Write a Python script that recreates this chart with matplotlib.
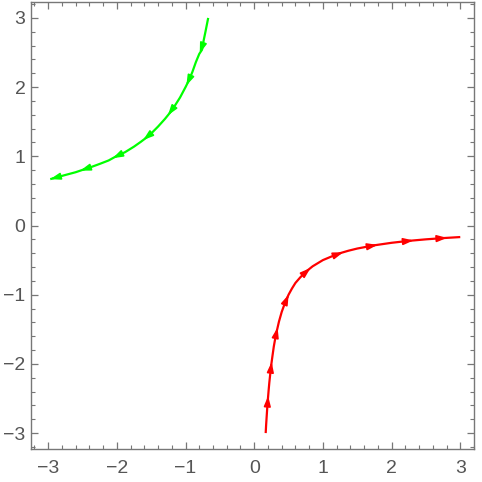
import numpy as np
import matplotlib
matplotlib.use("Agg")
import matplotlib.pyplot as plt
from matplotlib.ticker import MultipleLocator

# Curves (ordered in flow direction)
green_x = [-0.67, -0.69, -0.71, -0.735, -0.76, -0.8, -0.85, -0.9, -0.95, -1.0, -1.08, -1.15, -1.21, -1.3,
           -1.4, -1.5, -1.57, -1.65, -1.75, -1.88, -2.01, -2.12, -2.25, -2.36, -2.48, -2.6, -2.75, -2.86, -2.97]
green_y = [3.0, 2.9, 2.8, 2.68, 2.54, 2.48, 2.36, 2.22, 2.1, 2.0, 1.85, 1.74, 1.65, 1.54,
           1.43, 1.33, 1.27, 1.21, 1.14, 1.06, 1.0, 0.94, 0.89, 0.85, 0.81, 0.77, 0.73, 0.7, 0.67]
red_x = [0.167, 0.173, 0.18, 0.19, 0.2, 0.21, 0.22, 0.235, 0.25, 0.265, 0.285, 0.31, 0.33, 0.36, 0.4, 0.44,
         0.5, 0.55, 0.6, 0.67, 0.75, 0.85, 1.0, 1.12, 1.25, 1.37, 1.5, 1.75, 2.0, 2.25, 2.5, 2.75, 3.0]
red_y = [-3.0, -2.89, -2.78, -2.63, -2.5, -2.38, -2.27, -2.13, -2.0, -1.89, -1.75, -1.61, -1.52, -1.39, -1.25, -1.14,
         -1.0, -0.91, -0.83, -0.75, -0.67, -0.59, -0.5, -0.45, -0.4, -0.365, -0.333, -0.286, -0.25, -0.222, -0.2, -0.182, -0.167]

# Arrowhead positions
green_arrow_x = [-0.763, -0.948, -1.21, -1.57, -2.01, -2.48, -2.97]
green_arrow_y = [2.54, 2.07, 1.63, 1.27, 1.0, 0.82, 0.68]
red_arrow_x = [0.198, 0.246, 0.323, 0.474, 0.766, 1.24, 1.735, 2.26, 2.75]
red_arrow_y = [-2.52, -2.03, -1.53, -1.05, -0.64, -0.40, -0.28, -0.21, -0.17]

ticks = [-3, -2, -1, 0, 1, 2, 3]
tick_labels = ["\u22123", "\u22122", "\u22121", "0", "1", "2", "3"]

fig = plt.figure(figsize=(4.82, 4.82), dpi=100)
ax = fig.add_axes([31/482, 33/482, 443/482, 447/482])
ax.set_xlim(-3.25, 3.2)
ax.set_ylim(-3.23, 3.23)

def draw(xs, ys, axs, ays, color):
    ax.plot(xs, ys, color=color, lw=1.6, solid_capstyle='butt', zorder=2)
    fig.canvas.draw()
    pts = ax.transData.transform(np.column_stack([xs, ys]))
    seg = np.diff(pts, axis=0)
    seglen = np.hypot(seg[:, 0], seg[:, 1])
    s = np.concatenate([[0], np.cumsum(seglen)])
    for tx, ty in zip(axs, ays):
        tip = ax.transData.transform((tx, ty))
        best = None
        for k in range(len(seg)):
            t = np.dot(tip - pts[k], seg[k]) / seglen[k] ** 2
            t = min(max(t, 0), 1)
            p = pts[k] + t * seg[k]
            dist = np.hypot(*(tip - p))
            if best is None or dist < best[0]:
                best = (dist, s[k] + t * seglen[k])
        st = min(best[1] + 4, s[-1])
        sb = max(st - 10, 0)
        tipx = np.interp(st, s, pts[:, 0]); tipy = np.interp(st, s, pts[:, 1])
        bx = np.interp(sb, s, pts[:, 0]); by = np.interp(sb, s, pts[:, 1])
        tip_d = ax.transData.inverted().transform((tipx, tipy))
        tail = ax.transData.inverted().transform((bx, by))
        ax.annotate('', xy=tip_d, xytext=tail,
                    arrowprops=dict(arrowstyle='-|>,head_length=0.6,head_width=0.2',
                                    color=color, lw=1.2, shrinkA=0, shrinkB=0),
                    zorder=3)

draw(green_x, green_y, green_arrow_x, green_arrow_y, '#00ff00')
draw(red_x, red_y, red_arrow_x, red_arrow_y, '#ff0000')

ax.set_xticks(ticks)
ax.set_xticklabels(tick_labels)
ax.set_yticks(ticks)
ax.set_yticklabels(tick_labels)
ax.xaxis.set_minor_locator(MultipleLocator(0.2))
ax.yaxis.set_minor_locator(MultipleLocator(0.2))
ax.tick_params(which='both', direction='in', top=True, right=True, color='#777777')
ax.tick_params(which='major', length=5, width=0.9, labelsize=14, labelcolor='#555555')
ax.tick_params(which='minor', length=3, width=0.8)
ax.tick_params(axis='x', which='major', pad=8)
ax.tick_params(axis='y', which='major', pad=4)
for lab in ax.get_xticklabels() + ax.get_yticklabels():
    lab.set_family('Liberation Sans')
for sp in ax.spines.values():
    sp.set_color('#777777')
    sp.set_linewidth(1.0)

fig.savefig('out.png', dpi=100)
